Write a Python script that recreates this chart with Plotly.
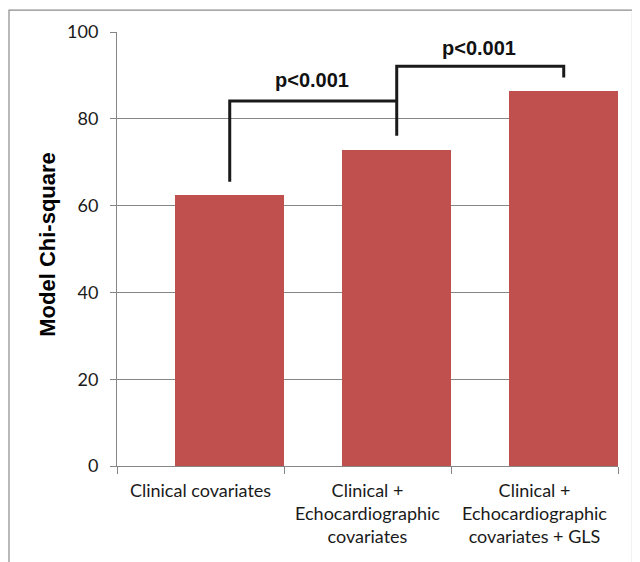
import plotly.graph_objects as go

categories = ["Clinical covariates",
              "Clinical +<br>Echocardiographic<br>covariates",
              "Clinical +<br>Echocardiographic<br>covariates + GLS"]
chi_square = [62.5, 72.8, 86.5]
y_ticks = [0, 20, 40, 60, 80, 100]
p_labels = ["p<0.001", "p<0.001"]

BAR_W = 0.65
BAR_OFF = -0.15
centers = [i + BAR_OFF + BAR_W / 2 for i in range(len(categories))]

fig = go.Figure()
fig.add_trace(go.Bar(x=categories, y=chi_square, width=BAR_W, offset=BAR_OFF,
                     marker=dict(color="#C0504D", line=dict(width=0)),
                     hoverinfo="y"))

line = dict(color="#1a1a1a", width=3)
b1 = [(centers[0], 65.5), (centers[0], 84.1), (centers[1], 84.1)]
b2 = [(centers[1], 76.1), (centers[1], 92.1), (centers[2], 92.1), (centers[2], 89.5)]
for pts in (b1, b2):
    path = "M " + " L ".join(f"{x},{y}" for x, y in pts)
    fig.add_shape(type="path", path=path, xref="x", yref="y", line=line, layer="above")

fig.add_annotation(x=(centers[0] + centers[1]) / 2 - 0.01, y=89.0, xref="x", yref="y",
                   text=f"<b>{p_labels[0]}</b>", showarrow=False,
                   font=dict(family="Arial, Liberation Sans", size=20, color="#111"))
fig.add_annotation(x=(centers[1] + centers[2]) / 2 - 0.01, y=96.4, xref="x", yref="y",
                   text=f"<b>{p_labels[1]}</b>", showarrow=False,
                   font=dict(family="Arial, Liberation Sans", size=20, color="#111"))

# page body has an 8px offset; work in viewport pixels
OFF = 8
W, H = 640, 562
L, T = 117 - OFF, 32 - OFF
R = W + OFF - 618
B = H + OFF - 466.5
pw = W - L - R
ph = H - T - B


def px(xv):
    return (xv - OFF - L) / pw


def py(yv):
    return (H - B - (yv - OFF)) / ph


fig.add_annotation(x=px(48), y=py(245), xref="paper", yref="paper",
                   text="<b>Model Chi-square</b>", textangle=-90, showarrow=False,
                   xanchor="center", yanchor="middle",
                   font=dict(family="Arial, Liberation Sans", size=22, color="#000"))

fig.add_shape(type="rect", xref="paper", yref="paper",
              x0=px(9), x1=px(700), y0=py(700), y1=py(10),
              line=dict(color="#8c8c8c", width=1.2), fillcolor="rgba(0,0,0,0)", layer="below")
fig.add_shape(type="line", xref="paper", yref="paper",
              x0=px(632), x1=px(632), y0=py(700), y1=py(12),
              line=dict(color="#e4e4e4", width=1), layer="below")

fig.update_layout(
    width=W, height=H,
    margin=dict(l=L, r=R, t=T, b=B),
    paper_bgcolor="white", plot_bgcolor="white",
    showlegend=False,
    bargap=0,
    font=dict(family="Lato, Carlito, Calibri, sans-serif", size=18, color="#1a1a1a"),
)
fig.update_xaxes(type="category", tickson="boundaries", ticks="outside", ticklen=7,
                 tickcolor="#868686", showline=True, linecolor="#868686", linewidth=1,
                 showgrid=False, tickfont=dict(size=18), range=[-0.5, 2.5],
                 ticklabelstandoff=8)
fig.update_yaxes(range=[0, 100], tickvals=y_ticks, ticks="outside", ticklen=6,
                 tickcolor="#868686", showline=True, linecolor="#868686", linewidth=1,
                 showgrid=True, gridcolor="#868686", gridwidth=1, zeroline=False,
                 tickfont=dict(size=18), ticklabelstandoff=8)

fig.write_html("out.html")
